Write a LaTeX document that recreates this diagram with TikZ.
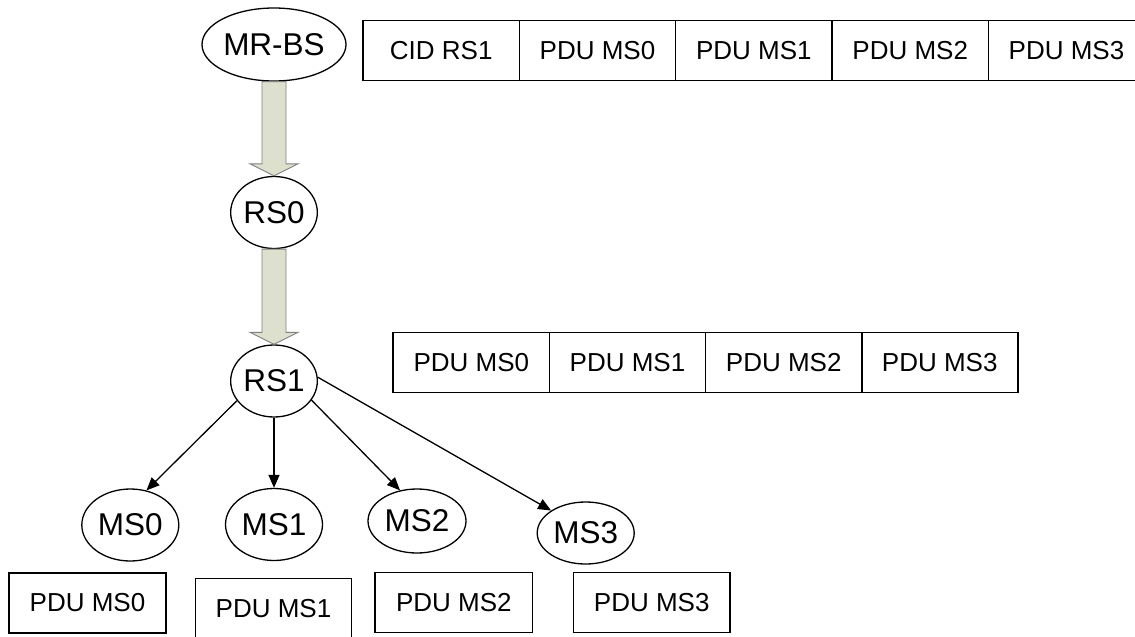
\documentclass[tikz,border=0pt]{standalone}
\usepackage{fontspec}
\setmainfont{Liberation Sans}
\usetikzlibrary{shapes.geometric,arrows.meta,calc}
\definecolor{blockfill}{RGB}{221,224,204}
\definecolor{blockline}{RGB}{128,128,128}
\tikzset{
  station/.style={ellipse,draw,line width=1.3pt,fill=white,inner sep=0pt,
    font=\fontsize{31.5}{36}\selectfont},
  cell/.style={rectangle,draw,line width=1.5pt,inner sep=0pt,minimum height=60pt,
    minimum width=156.3pt,font=\fontsize{26}{30}\selectfont},
  link/.style={line width=1.3pt,-{Triangle[length=13pt,width=11pt]}},
  blockarrow/.style={draw=blockline,line width=0.9pt,fill=blockfill,line join=miter}
}
\begin{document}
\begin{tikzpicture}[x=1pt,y=-1pt]
\useasboundingbox (0,0) rectangle (1135,637);
\clip (0,0) rectangle (1135,637);
% stations
\node[station,minimum width=144pt,minimum height=73pt] (MRBS) at (274,44.5) {MR-BS};
\node[station,minimum width=85pt,minimum height=72pt] (RS0) at (274,212.5) {RS0};
\node[station,minimum width=85pt,minimum height=72pt] (RS1) at (274,381) {RS1};
\node[station,minimum width=97pt,minimum height=72pt] (MS0) at (130.3,525) {MS0};
\node[station,minimum width=97pt,minimum height=72pt] (MS1) at (274,524.5) {MS1};
\node[station,minimum width=98pt,minimum height=64pt] (MS2) at (417,521) {MS2};
\node[station,minimum width=97pt,minimum height=62pt] (MS3) at (585.7,533) {MS3};
% block arrows
\draw[blockarrow] ($(MRBS.south)+(-12,0)$) -- ($(RS0.north)+(-12,-12)$) -- ($(RS0.north)+(-24,-12)$)
  -- (RS0.north) -- ($(RS0.north)+(24,-12)$) -- ($(RS0.north)+(12,-12)$) -- ($(MRBS.south)+(12,0)$) -- cycle;
\draw[blockarrow] ($(RS0.south)+(-12,0)$) -- ($(RS1.north)+(-12,-12)$) -- ($(RS1.north)+(-24,-12)$)
  -- (RS1.north) -- ($(RS1.north)+(24,-12)$) -- ($(RS1.north)+(12,-12)$) -- ($(RS0.south)+(12,0)$) -- cycle;
% links
\draw[link] (RS1.208) -- (MS0.65);
\draw[link] (RS1.south) -- (MS1.north);
\draw[link] (RS1.333) -- (MS2.119);
\draw[link] (RS1.5) -- (MS3.147);
% top frame
\node[cell] (t0) at (441.2,50.7) {CID RS1};
\node[cell] (t1) at (597.5,50.7) {PDU MS0};
\node[cell] (t2) at (753.8,50.7) {PDU MS1};
\node[cell] (t3) at (910.2,50.7) {PDU MS2};
\node[cell] (t4) at (1066.5,50.7) {PDU MS3};
% middle frame
\node[cell] (m0) at (471.3,362.5) {PDU MS0};
\node[cell] (m1) at (627.5,362.5) {PDU MS1};
\node[cell] (m2) at (783.7,362.5) {PDU MS2};
\node[cell] (m3) at (939.7,362.5) {PDU MS3};
% bottom boxes
\node[cell,minimum width=157pt] (b0) at (87.5,603) {PDU MS0};
\node[cell,minimum width=156.4pt] (b1) at (273.5,608.5) {PDU MS1};
\node[cell,minimum width=157.7pt] (b2) at (453.8,602.7) {PDU MS2};
\node[cell,minimum width=156.7pt] (b3) at (651.7,602.7) {PDU MS3};
\end{tikzpicture}
\end{document}
